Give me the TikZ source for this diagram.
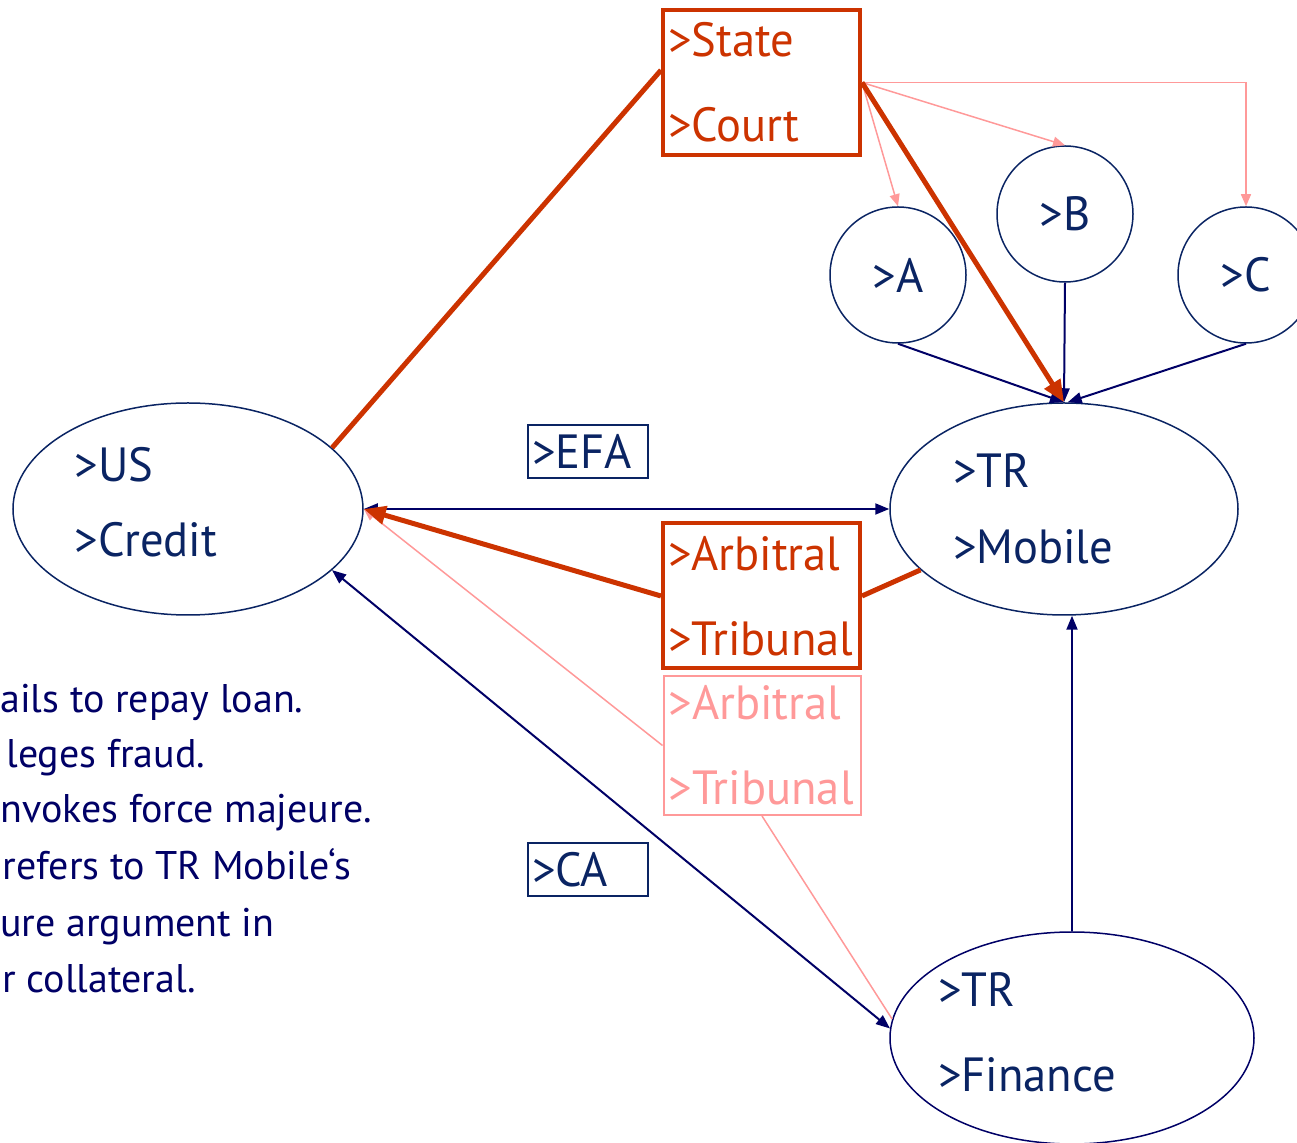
\documentclass[tikz,border=0pt]{standalone}
\usepackage{fontspec}
\setmainfont{PT Sans}
\newfontfamily\lblfont[FakeStretch=0.97]{PT Sans}
\usetikzlibrary{shapes.geometric, arrows.meta}
\definecolor{navyline}{HTML}{000066}
\definecolor{navyrim}{HTML}{0A2463}
\definecolor{courtred}{HTML}{CC3300}
\definecolor{palepink}{HTML}{FF9999}
\tikzset{
  party/.style={ellipse, draw=navyrim, line width=0.75pt, text=navyrim, align=left, inner sep=0pt, minimum height=106pt},
  firm/.style={circle, draw=navyrim, line width=0.75pt, text=navyrim, minimum size=68pt, inner sep=0pt, font=\lblfont\fontsize{24pt}{28pt}\selectfont},
  forum/.style={rectangle, draw=courtred, line width=2pt, text=courtred, align=left, inner sep=2.5pt, text width=93.5pt, minimum height=72.5pt, font=\lblfont\fontsize{24pt}{42.5pt}\selectfont},
  pinkforum/.style={forum, draw=palepink, line width=1pt, text=palepink, minimum height=69.5pt},
  pact/.style={rectangle, draw=navyrim, line width=0.75pt, text=navyrim, align=left, inner sep=2pt, text width=56pt, minimum height=26.5pt, font=\lblfont\fontsize{24pt}{28pt}\selectfont},
  note/.style={text=navyline, anchor=base west, inner sep=0pt, font=\fontsize{20pt}{24pt}\selectfont},
  navylink/.style={draw=navyline, line width=1pt},
  redlink/.style={draw=courtred, line width=2.5pt},
  redarrow/.style={redlink, -{Triangle[length=11pt,width=9pt]}},
  pinklink/.style={draw=palepink, line width=0.75pt},
  pinkarrow/.style={pinklink, -{Triangle[length=6pt,width=5pt]}}
}
\begin{document}
\begin{tikzpicture}[x=0.5pt, y=-0.5pt, >={Triangle[length=7pt,width=5.5pt]}]
  \useasboundingbox (0,0) rectangle (1297,1143);
  \clip (0,0) rectangle (1297,1143);

  \node[party, minimum width=175pt, text width=113pt, font=\lblfont\fontsize{24pt}{37.5pt}\selectfont] (uc) at (188,509) {>US\\>Credit\par\vspace{7pt}};
  \node[party, minimum width=174pt, text width=111pt, font=\lblfont\fontsize{24pt}{38pt}\selectfont] (tm) at (1064,509) {>TR\\>Mobile};
  \node[party, draw=navyline, minimum width=182pt, text width=134pt, inner xsep=-8pt, font=\lblfont\fontsize{24pt}{42.5pt}\selectfont] (tf) at (1072,1038) {>TR\\>Finance\par\vspace{6pt}};

  \node[firm] (nA) at (898,275) {>A};
  \node[firm] (nB) at (1065,214) {>B};
  \node[firm] (nC) at (1246,275) {>C};

  \node[forum] (sc) at (761.5,82.5) {>State\\>Court};
  \node[forum] (at) at (761.5,596) {>Arbitral\\>Tribunal};
  \node[pinkforum] (pt) at (762,745.5) {>Arbitral\\>Tribunal};

  \node[pact] (efa) at (588,451.5) {>EFA};
  \node[pact] (ca) at (588,869.5) {>CA};

  \node[note] (n1) at (0,713) {ails to repay loan.};
  \node[note] (n2) at (6,768) {leges fraud.};
  \node[note] (n3) at (0,823) {nvokes force majeure.};
  \node[note] (n4) at (2,880) {refers to TR Mobile‘s};
  \node[note] (n5) at (0,937) {ure argument in};
  \node[note] (n6) at (2,993) {r collateral.};

  \draw[pinkarrow] (sc.east) -- (nA.north);
  \draw[pinkarrow] (sc.east) -- (nB.north);
  \draw[pinkarrow] (sc.east) -| (nC.north);
  \draw[pinkarrow] (pt.west) -- (uc.east);
  \draw[pinklink] (pt.south) -- (tf.174);

  \draw[navylink, ->] (nA.south) -- (tm.north);
  \draw[navylink, ->] (nB.south) -- (tm.north);
  \draw[navylink, ->] (nC.south) -- (tm.88);
  \draw[navylink, <->] (uc.east) -- (tm.west);
  \draw[navylink, <->] (uc.337) -- (tf.177);
  \draw[navylink, ->] (tf.north) -- (tf.north |- tm.south);

  \draw[redlink] (sc.173) -- (uc.23);
  \draw[redarrow] (sc.east) -- (tm.north);
  \draw[redarrow] (at.west) -- (uc.east);
  \draw[redlink] (at.east) -- (tm.203);
\end{tikzpicture}
\end{document}
